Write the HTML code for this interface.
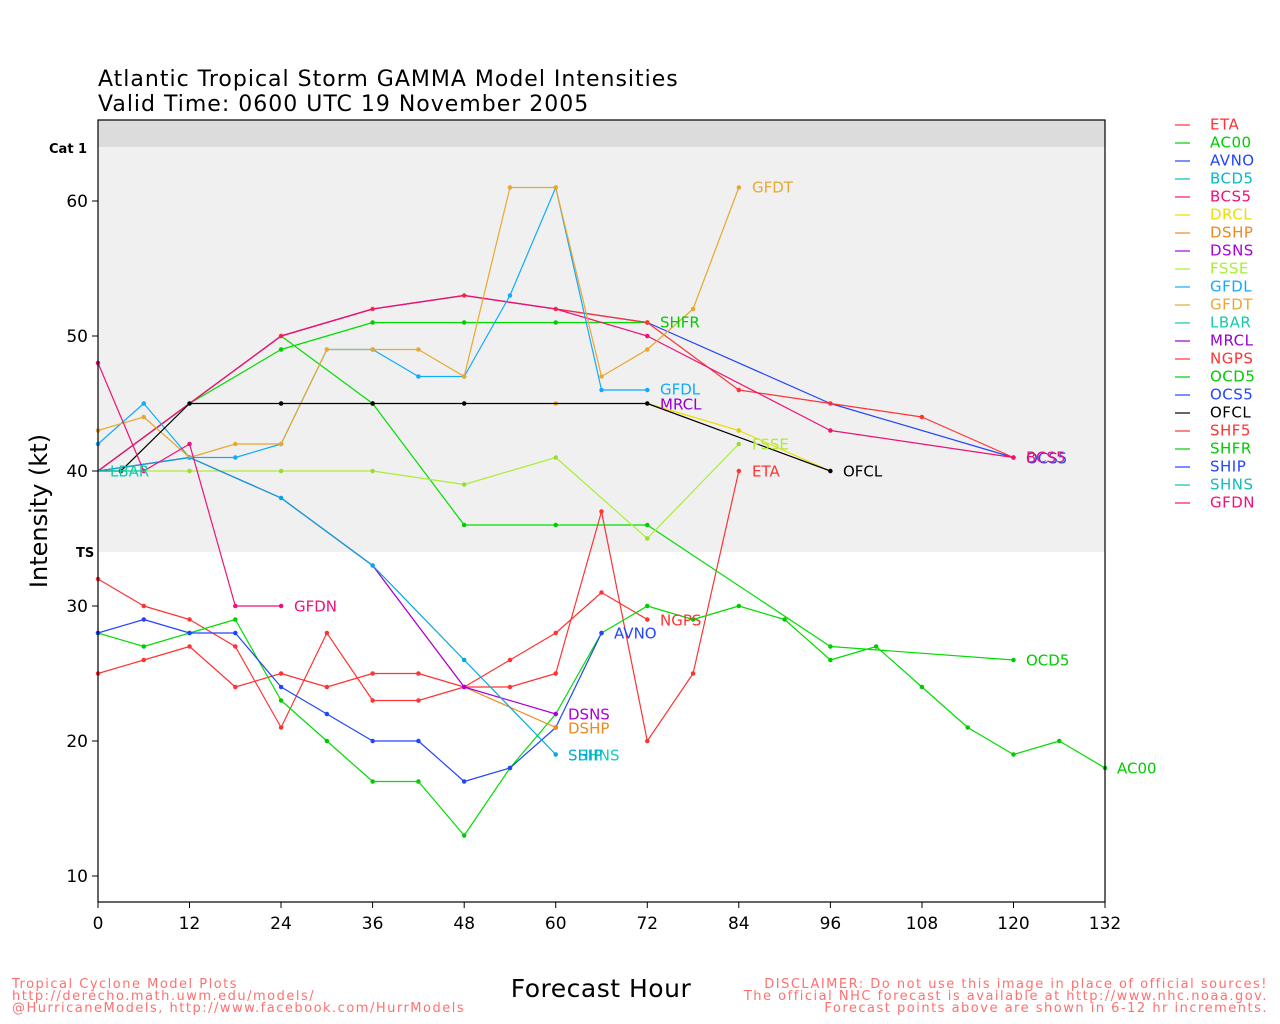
<!DOCTYPE html>
<html><head><meta charset="utf-8"><style>
body{margin:0;background:#fff;}
svg{display:block;font-family:"DejaVu Sans","Liberation Sans",sans-serif;}
.lb{font-size:15px;dominant-baseline:middle;}
.f{fill:none;stroke-width:1.2;vector-effect:non-scaling-stroke;stroke-linejoin:round}
.d{fill:none;stroke-width:4.5;stroke-linecap:round;vector-effect:non-scaling-stroke}
</style></head><body>
<svg width="1280" height="1024" viewBox="0 0 1280 1024">
<rect x="98" y="120" width="1007" height="27" fill="#dcdcdc"/>
<rect x="98" y="147" width="1007" height="405" fill="#f0f0f0"/>
<text x="98" y="86" font-size="22" letter-spacing="1">Atlantic Tropical Storm GAMMA Model Intensities</text>
<text x="98" y="111" font-size="22" letter-spacing="1">Valid Time: 0600 UTC 19 November 2005</text>
<text x="49" y="153" font-size="13" font-weight="bold">Cat 1</text>
<text x="76" y="557" font-size="13" font-weight="bold">TS</text>
<g font-size="17" text-anchor="end" dominant-baseline="middle">
<text x="88" y="202">60</text><text x="88" y="337">50</text><text x="88" y="472">40</text><text x="88" y="607">30</text><text x="88" y="742">20</text><text x="88" y="877">10</text></g>
<g stroke="#000"><line x1="92" x2="98" y1="201" y2="201"/><line x1="92" x2="98" y1="336" y2="336"/><line x1="92" x2="98" y1="471" y2="471"/><line x1="92" x2="98" y1="606" y2="606"/><line x1="92" x2="98" y1="741" y2="741"/><line x1="92" x2="98" y1="876" y2="876"/></g>
<g font-size="17" text-anchor="middle">
<text x="98" y="929">0</text><text x="189.5" y="929">12</text><text x="281" y="929">24</text><text x="372.6" y="929">36</text><text x="464.2" y="929">48</text><text x="555.7" y="929">60</text><text x="647.3" y="929">72</text><text x="738.8" y="929">84</text><text x="830.4" y="929">96</text><text x="922" y="929">108</text><text x="1013.5" y="929">120</text><text x="1105" y="929">132</text></g>
<g stroke="#000"><line x1="98" x2="98" y1="902" y2="908"/><line x1="189.5" x2="189.5" y1="902" y2="908"/><line x1="281" x2="281" y1="902" y2="908"/><line x1="372.6" x2="372.6" y1="902" y2="908"/><line x1="464.2" x2="464.2" y1="902" y2="908"/><line x1="555.7" x2="555.7" y1="902" y2="908"/><line x1="647.3" x2="647.3" y1="902" y2="908"/><line x1="738.8" x2="738.8" y1="902" y2="908"/><line x1="830.4" x2="830.4" y1="902" y2="908"/><line x1="922" x2="922" y1="902" y2="908"/><line x1="1013.5" x2="1013.5" y1="902" y2="908"/><line x1="1105" x2="1105" y1="902" y2="908"/></g>
<text transform="translate(47,511) rotate(-90)" font-size="24" text-anchor="middle">Intensity (kt)</text>
<text x="601" y="997" font-size="25" text-anchor="middle" letter-spacing="0.5">Forecast Hour</text>
<g fill="#ff7070" font-size="13" letter-spacing="1.5"><text x="12" y="988">Tropical Cyclone Model Plots</text><text x="12" y="1000">http://derecho.math.uwm.edu/models/</text><text x="12" y="1012">@HurricaneModels, http://www.facebook.com/HurrModels</text>
<text x="1268" y="988" text-anchor="end">DISCLAIMER: Do not use this image in place of official sources!</text><text x="1268" y="1000" text-anchor="end">The official NHC forecast is available at http://www.nhc.noaa.gov.</text><text x="1268" y="1012" text-anchor="end">Forecast points above are shown in 6-12 hr increments.</text></g>

<g transform="translate(98,1011) scale(7.629,-13.5)">
<polyline class="f" stroke="#ff3333" points="0,25 6,26 12,27 18,24 24,25 30,24 36,25 42,25 48,24 54,24 60,25 66,37 72,20 78,25 84,40"/>
<path class="d" stroke="#ff3333" d="M0 25h0M6 26h0M12 27h0M18 24h0M24 25h0M30 24h0M36 25h0M42 25h0M48 24h0M54 24h0M60 25h0M66 37h0M72 20h0M78 25h0M84 40h0"/>
<polyline class="f" stroke="#ff3333" points="0,32 6,30 12,29 18,27 24,21 30,28 36,23 42,23 48,24 54,26 60,28 66,31 72,29"/>
<path class="d" stroke="#ff3333" d="M0 32h0M6 30h0M12 29h0M18 27h0M24 21h0M30 28h0M36 23h0M42 23h0M48 24h0M54 26h0M60 28h0M66 31h0M72 29h0"/>
<polyline class="f" stroke="#00dd00" points="0,28 6,27 12,28 18,29 24,23 30,20 36,17 42,17 48,13 54,18 60,22 66,28 72,30 78,29 84,30 90,29 96,26 102,27 108,24 114,21 120,19 126,20 132,18"/>
<path class="d" stroke="#00cc00" d="M0 28h0M6 27h0M12 28h0M18 29h0M24 23h0M30 20h0M36 17h0M42 17h0M48 13h0M54 18h0M60 22h0M66 28h0M72 30h0M78 29h0M84 30h0M90 29h0M96 26h0M102 27h0M108 24h0M114 21h0M120 19h0M126 20h0M132 18h0"/>
<polyline class="f" stroke="#2244ff" points="0,28 6,29 12,28 18,28 24,24 30,22 36,20 42,20 48,17 54,18 60,21 66,28"/>
<path class="d" stroke="#2244ff" d="M0 28h0M6 29h0M12 28h0M18 28h0M24 24h0M30 22h0M36 20h0M42 20h0M48 17h0M54 18h0M60 21h0M66 28h0"/>
<polyline class="f" stroke="#00dd00" points="0,40 12,45 24,50 36,45 48,36 60,36 72,36 96,27 120,26"/>
<path class="d" stroke="#00cc00" d="M24 50h0M36 45h0M48 36h0M60 36h0M72 36h0M96 27h0M120 26h0"/>
<polyline class="f" stroke="#00dd00" points="0,40 12,45 24,49 36,51 48,51 60,51 72,51"/>
<path class="d" stroke="#00cc00" d="M24 49h0M36 51h0M48 51h0M60 51h0M72 51h0"/>
<polyline class="f" stroke="#2244ff" points="0,40 12,45 24,50 36,52 48,53 60,52 72,51 96,45 120,41"/>
<polyline class="f" stroke="#ff3333" points="0,40 12,45 24,50 36,52 48,53 60,52 72,51 84,46 96,45 108,44 120,41"/>
<path class="d" stroke="#ff3333" d="M24 50h0M36 52h0M48 53h0M60 52h0M72 51h0M84 46h0M96 45h0M108 44h0M120 41h0"/>
<polyline class="f" stroke="#ee1177" points="0,40 12,45 24,50 36,52 48,53 60,52 72,50 96,43 120,41"/>
<path class="d" stroke="#ee1177" d="M72 50h0M96 43h0M120 41h0"/>
<polyline class="f" stroke="#aaee33" points="0,40 12,40 24,40 36,40 48,39 60,41 72,35 84,42"/>
<path class="d" stroke="#99dd33" d="M12 40h0M24 40h0M36 40h0M48 39h0M60 41h0M72 35h0M84 42h0"/>
<polyline class="f" stroke="#eedd00" points="72,45 84,43 96,40"/>
<path class="d" stroke="#ddcc00" d="M84 43h0"/>
<polyline class="f" stroke="#ee8822" points="0,40 12,41 24,38 36,33 48,24 60,21"/>
<polyline class="f" stroke="#aa00dd" points="0,40 12,41 24,38 36,33 48,24 60,22"/>
<polyline class="f" stroke="#00aadd" points="0,40 12,41 24,38 36,33 48,26 60,19"/>
<path class="d" stroke="#00aadd" d="M12 41h0M24 38h0M36 33h0M48 26h0M60 19h0"/>
<path class="d" stroke="#aa00dd" d="M48 24h0M60 22h0"/>
<path class="d" stroke="#ee8822" d="M60 21h0"/>
<polyline class="f" stroke="#11aaff" points="0,42 6,45 12,41 18,41 24,42 30,49 36,49 42,47 48,47 54,53 60,61 66,46 72,46"/>
<path class="d" stroke="#11aaff" d="M0 42h0M6 45h0M12 41h0M18 41h0M24 42h0M36 49h0M42 47h0M48 47h0M54 53h0M60 61h0M66 46h0M72 46h0"/>
<polyline class="f" stroke="#e8a830" points="0,43 6,44 12,41 18,42 24,42 30,49 36,49 42,49 48,47 54,61 60,61 66,47 72,49 78,52 84,61"/>
<path class="d" stroke="#e8a830" d="M0 43h0M6 44h0M18 42h0M24 42h0M30 49h0M36 49h0M42 49h0M48 47h0M54 61h0M60 61h0M66 47h0M72 49h0M78 52h0M84 61h0M60 45h0"/>
<polyline class="f" stroke="#000" points="0,40 3,40 12,45 24,45 36,45 48,45 60,45 72,45 96,40"/>
<path class="d" stroke="#000" d="M3 40h0M12 45h0M24 45h0M36 45h0M48 45h0M72 45h0M96 40h0"/>
<polyline class="f" stroke="#ee1177" points="0,48 6,40 12,42 18,30 24,30"/>
<path class="d" stroke="#ee1177" d="M0 48h0M6 40h0M12 42h0M18 30h0M24 30h0"/>
<polyline class="f" stroke="#11ccaa" points="0,40 6,40"/>
</g>
<rect x="98" y="120" width="1007" height="782" fill="none" stroke="#000" stroke-width="1.2"/>

<g class="lb">
<text class="lb" x="752" y="188" fill="#e8a830">GFDT</text>
<text class="lb" x="660" y="323" fill="#00cc00">SHFR</text>
<text class="lb" x="660" y="390" fill="#11aaff">GFDL</text>
<text class="lb" x="660" y="405" fill="#9900cc">MRCL</text>
<text class="lb" x="752" y="445" fill="#aaee33">FSSE</text>
<text class="lb" x="752" y="472" fill="#ff3333">ETA</text>
<text class="lb" x="843" y="472" fill="#000">OFCL</text>
<text class="lb" x="1026" y="459" fill="#2244ff">OCS5</text>
<text class="lb" x="1026" y="458" fill="#ee1177">BCS5</text>
<text class="lb" x="110" y="472" fill="#11ccaa">LBAR</text>
<text class="lb" x="294" y="607" fill="#ee1177">GFDN</text>
<text class="lb" x="614" y="634" fill="#2244ff">AVNO</text>
<text class="lb" x="660" y="621" fill="#ff3333">NGPS</text>
<text class="lb" x="1026" y="661" fill="#00cc00">OCD5</text>
<text class="lb" x="1117" y="769" fill="#00cc00">AC00</text>
<text class="lb" x="568" y="715" fill="#aa00dd">DSNS</text>
<text class="lb" x="568" y="729" fill="#ee8822">DSHP</text>
<text class="lb" x="578" y="756" fill="#11ccbb">SHNS</text>
<text class="lb" x="568" y="756" fill="#00aadd">SHIP</text>
</g>

<g font-size="15">
<g stroke-width="1.2">
<line x1="1175" x2="1190" y1="125" y2="125" stroke="#ff3333"/>
<line x1="1175" x2="1190" y1="143" y2="143" stroke="#00cc00"/>
<line x1="1175" x2="1190" y1="161" y2="161" stroke="#2244ff"/>
<line x1="1175" x2="1190" y1="179" y2="179" stroke="#00bbcc"/>
<line x1="1175" x2="1190" y1="197" y2="197" stroke="#ee1177"/>
<line x1="1175" x2="1190" y1="215" y2="215" stroke="#eedd00"/>
<line x1="1175" x2="1190" y1="233" y2="233" stroke="#ee8822"/>
<line x1="1175" x2="1190" y1="251" y2="251" stroke="#aa00dd"/>
<line x1="1175" x2="1190" y1="269" y2="269" stroke="#aaee33"/>
<line x1="1175" x2="1190" y1="287" y2="287" stroke="#11aaff"/>
<line x1="1175" x2="1190" y1="305" y2="305" stroke="#e8a830"/>
<line x1="1175" x2="1190" y1="323" y2="323" stroke="#11ccaa"/>
<line x1="1175" x2="1190" y1="341" y2="341" stroke="#9900cc"/>
<line x1="1175" x2="1190" y1="359" y2="359" stroke="#ff3333"/>
<line x1="1175" x2="1190" y1="377" y2="377" stroke="#00cc00"/>
<line x1="1175" x2="1190" y1="395" y2="395" stroke="#2244ff"/>
<line x1="1175" x2="1190" y1="413" y2="413" stroke="#000"/>
<line x1="1175" x2="1190" y1="431" y2="431" stroke="#ff3333"/>
<line x1="1175" x2="1190" y1="449" y2="449" stroke="#00cc00"/>
<line x1="1175" x2="1190" y1="467" y2="467" stroke="#2244ff"/>
<line x1="1175" x2="1190" y1="485" y2="485" stroke="#11bbbb"/>
<line x1="1175" x2="1190" y1="503" y2="503" stroke="#ee1177"/>
</g>
<g dominant-baseline="middle" letter-spacing="0.5">
<text x="1210" y="125" fill="#ff3333">ETA</text>
<text x="1210" y="143" fill="#00cc00">AC00</text>
<text x="1210" y="161" fill="#2244ff">AVNO</text>
<text x="1210" y="179" fill="#00bbcc">BCD5</text>
<text x="1210" y="197" fill="#ee1177">BCS5</text>
<text x="1210" y="215" fill="#eedd00">DRCL</text>
<text x="1210" y="233" fill="#ee8822">DSHP</text>
<text x="1210" y="251" fill="#aa00dd">DSNS</text>
<text x="1210" y="269" fill="#aaee33">FSSE</text>
<text x="1210" y="287" fill="#11aaff">GFDL</text>
<text x="1210" y="305" fill="#e8a830">GFDT</text>
<text x="1210" y="323" fill="#11ccaa">LBAR</text>
<text x="1210" y="341" fill="#9900cc">MRCL</text>
<text x="1210" y="359" fill="#ff3333">NGPS</text>
<text x="1210" y="377" fill="#00cc00">OCD5</text>
<text x="1210" y="395" fill="#2244ff">OCS5</text>
<text x="1210" y="413" fill="#000">OFCL</text>
<text x="1210" y="431" fill="#ff3333">SHF5</text>
<text x="1210" y="449" fill="#00cc00">SHFR</text>
<text x="1210" y="467" fill="#2244ff">SHIP</text>
<text x="1210" y="485" fill="#11bbbb">SHNS</text>
<text x="1210" y="503" fill="#ee1177">GFDN</text>
</g></g>
</svg>
</body></html>
